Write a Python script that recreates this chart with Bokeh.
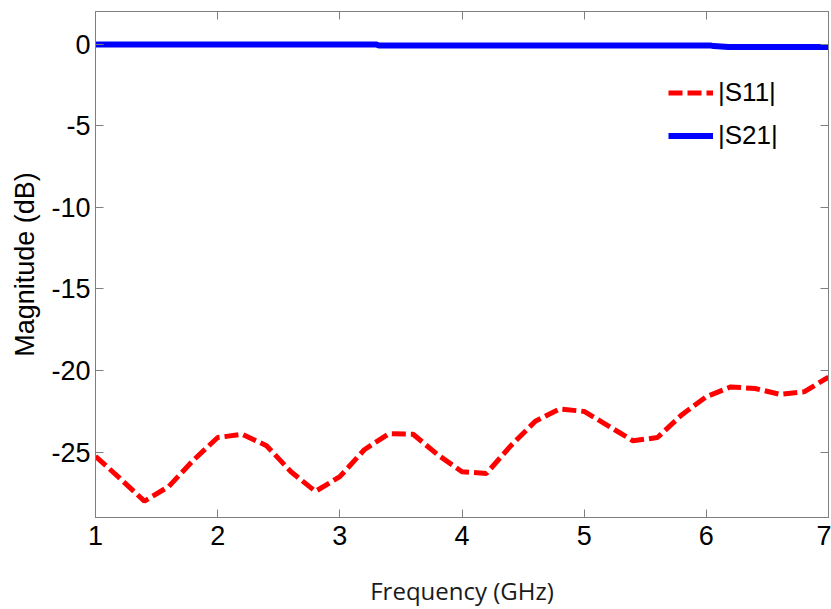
from bokeh.plotting import figure
from bokeh.models import (LinearAxis, Range1d, Legend, LegendItem, FixedTicker,
                          PrintfTickFormatter, CustomLabelingPolicy)
from bokeh.embed import file_html
from bokeh.resources import INLINE

# Measured S-parameters (dB) versus frequency (GHz)
s11_freq = [1.0, 1.2, 1.4, 1.6, 1.8, 2.0, 2.2, 2.4, 2.6, 2.8, 3.0, 3.2, 3.4, 3.6, 3.8,
            4.0, 4.2, 4.4, 4.6, 4.8, 5.0, 5.2, 5.4, 5.6, 5.8, 6.0, 6.2, 6.4, 6.6, 6.8, 7.0]
s11_db = [-25.25, -26.6, -28.0, -27.1, -25.5, -24.1, -23.9, -24.6, -26.2, -27.4, -26.5,
          -24.85, -23.87, -23.9, -25.15, -26.2, -26.3, -24.6, -23.1, -22.35, -22.5,
          -23.4, -24.3, -24.1, -22.7, -21.6, -21.0, -21.1, -21.45, -21.3, -20.4]

s21_freq = [1.0, 2.0, 3.0, 3.3, 3.32, 4.0, 5.0, 6.04, 6.06, 6.18, 7.0]
s21_db = [-0.02, -0.02, -0.02, -0.02, -0.09, -0.09, -0.09, -0.09, -0.12, -0.17, -0.17]

x_ticks = [1, 2, 3, 4, 5, 6, 7]
y_ticks = [-25, -20, -15, -10, -5, 0]

AXIS_GRAY = "#7f7f7f"
TICK_FONT = "Liberation Sans"

p = figure(width=831, height=609, output_backend="svg", toolbar_location=None,
           x_range=Range1d(1, 7), y_range=Range1d(-29, 2),
           min_border_left=95, min_border_right=3, min_border_top=11, min_border_bottom=91)
p.background_fill_color = "white"
p.border_fill_color = "white"
p.outline_line_color = AXIS_GRAY
p.xgrid.visible = False
p.ygrid.visible = False

red = p.line(s11_freq, s11_db, line_color="#ff0000", line_width=5, line_dash="14 5")
blue = p.line(s21_freq, s21_db, line_color="#0000ff", line_width=6)

# drop every label on the mirror axes, keeping only their tick marks
no_labels = CustomLabelingPolicy(code="""
try {
  const ids = Array.from(indices)
  for (const i of ids) indices.unset(i)
} catch (e) {}
return indices
""")

def style_axis(ax, ticks, show_labels):
    ax.ticker = FixedTicker(ticks=ticks)
    ax.formatter = PrintfTickFormatter(format="%d")
    ax.axis_line_color = AXIS_GRAY
    ax.major_tick_line_color = AXIS_GRAY
    ax.major_tick_in = 8
    ax.major_tick_out = 0
    ax.minor_tick_line_color = None
    if show_labels:
        ax.major_label_text_font = TICK_FONT
        ax.major_label_text_font_size = "27px"
        ax.major_label_text_color = "black"
    else:
        ax.major_label_policy = no_labels
        ax.major_label_text_font_size = "0px"
        ax.major_label_standoff = 0

xa = p.xaxis[0]
style_axis(xa, x_ticks, True)
xa.major_label_standoff = 8
xa.axis_label = "Frequency (GHz)"
xa.axis_label_text_font = "Open Sans"
xa.axis_label_text_font_size = "24px"
xa.axis_label_text_font_style = "normal"
xa.axis_label_text_color = "#1a1a1a"
xa.axis_label_standoff = 26

ya = p.yaxis[0]
style_axis(ya, y_ticks, True)
ya.major_label_standoff = 5
ya.axis_label = "Magnitude (dB)"
ya.axis_label_text_font = TICK_FONT
ya.axis_label_text_font_size = "27px"
ya.axis_label_text_font_style = "normal"
ya.axis_label_text_color = "black"
ya.axis_label_standoff = 8

top_axis = LinearAxis()
style_axis(top_axis, x_ticks, False)
p.add_layout(top_axis, "above")

right_axis = LinearAxis()
style_axis(right_axis, y_ticks, False)
p.add_layout(right_axis, "right")

legend = Legend(items=[LegendItem(label="|S11|", renderers=[red]),
                       LegendItem(label="|S21|", renderers=[blue])],
                location=(573, 360))
legend.border_line_color = None
legend.background_fill_alpha = 0
legend.padding = 0
legend.margin = 0
legend.spacing = 0
legend.glyph_width = 45
legend.glyph_height = 43
legend.label_height = 43
legend.label_standoff = 5
legend.label_text_font = TICK_FONT
legend.label_text_font_size = "26px"
legend.label_text_color = "black"
p.add_layout(legend, "center")

open("out.html", "w").write(file_html(p, INLINE))
